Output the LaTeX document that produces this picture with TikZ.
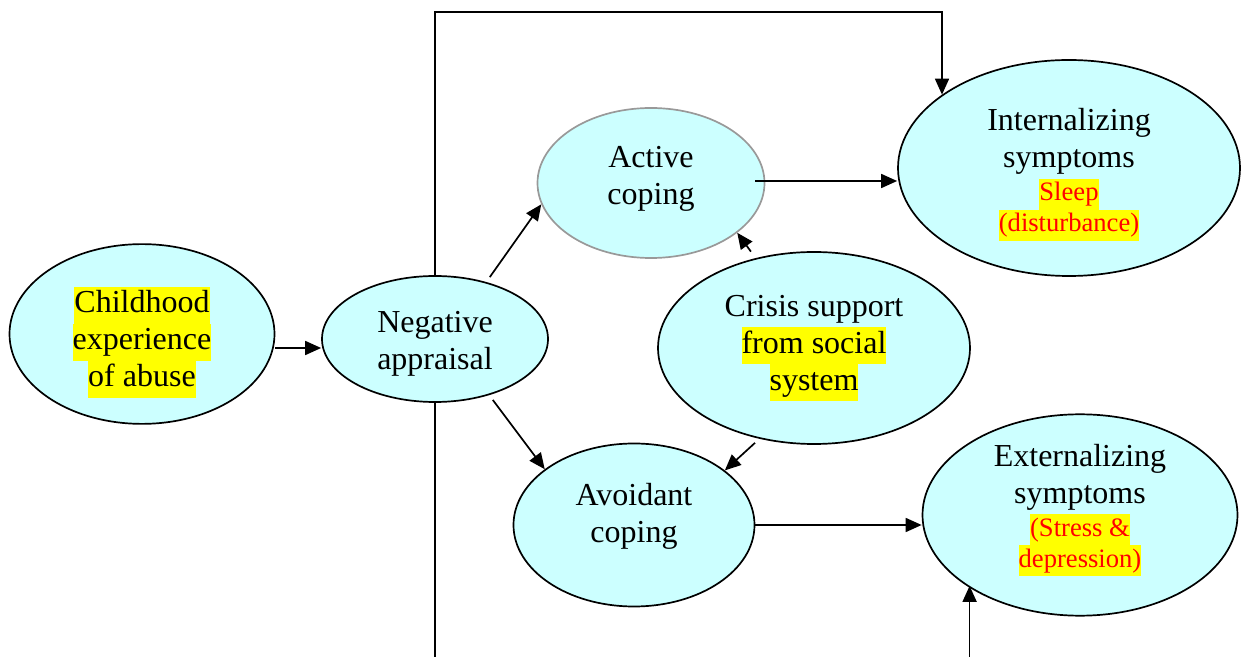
\documentclass[tikz,border=0pt]{standalone}
\usepackage{fontspec}
\setmainfont{Liberation Serif}
\usetikzlibrary{shapes.geometric}
\usetikzlibrary{arrows.meta}
\definecolor{bubble}{HTML}{CCFFFF}
\definecolor{hlyellow}{HTML}{FFFF00}
\definecolor{softgray}{HTML}{999999}
\newcommand{\hilite}[1]{{\setlength{\fboxsep}{0pt}\colorbox{hlyellow}{\strut#1}}}
\newcommand{\sym}[1]{{\fontsize{13.3}{15.5}\selectfont\color{red}\hilite{#1}}}
% invisible rules to nudge the text inside an oval
\newcommand{\padtop}[1]{\rule{0pt}{#1}}
\newcommand{\padbot}[1]{\rule[-#1]{0pt}{#1}}

\begin{document}
\begin{tikzpicture}
  [
    x=0.5pt,y=-0.5pt,
    font=\fontsize{16}{18.5}\selectfont,
    line width=0.85pt,
    blob/.style={
      ellipse,
      draw,
      fill=bubble,
      inner sep=0pt,
      align=center
    },
    dims/.style 2 args={minimum width=#1,minimum height=#2},
    arr/.style={-{Triangle[length=8pt,width=7pt]}},
  ]
  \useasboundingbox (0,0) rectangle (1243,657);
  \node[blob,dims={132.5pt}{84pt}]   (abuse)  at (142,334)  {\padtop{21pt}\hilite{Childhood}\\\hilite{experience}\\\hilite{of abuse}};
  \node[blob,dims={113pt}{63pt}]     (neg)    at (435,339)  {\padtop{15.5pt}Negative\\appraisal};
  \node[blob,draw=softgray,dims={113.5pt}{75pt}] (active) at (651,183) {Active\\coping\padbot{7.5pt}};
  \node[blob,dims={171pt}{108pt}]    (intern) at (1069,168) {\padtop{18pt}Internalizing\\symptoms\\[-2pt]\sym{Sleep}\\[-3pt]\sym{(disturbance)}};
  \node[blob,dims={156pt}{96pt}]     (crisis) at (814,348)  {Crisis support\\\hilite{from social}\\\hilite{system}};
  \node[blob,dims={120.5pt}{81.5pt}] (avoid)  at (634,525)  {Avoidant\\coping\padbot{12.5pt}};
  \node[blob,dims={157.5pt}{97pt}]   (ext)    at (1080,515) {Externalizing\\symptoms\\[-2pt]\sym{(Stress \&}\\[-3pt]\sym{depression)}\padbot{9.6pt}};

  \coordinate (top) at (690,12);
  \coordinate (bot) at (690,657);

  \draw[arr] ([yshift=-7pt]abuse.east) -- ([yshift=-7pt]abuse.east -| neg.west);
  \draw[arr,shorten <=3pt] (neg.48) -- (active.191);
  \draw[arr,shorten <=3pt] (neg.-46) -- (avoid.148);
  \draw[arr] ([xshift=-5pt,yshift=1pt]active.east) -- ([yshift=1pt]active.east -| intern.west);
  \draw[arr] (avoid.east) -- (avoid.east -| ext.west);
  \draw[arr,shorten <=4pt] (crisis.123) -- (active.-30);
  \draw[arr,shorten <=3pt] (crisis.239) -- (avoid.31);
  % long paths round the middle
  \draw[arr] (neg.north) |- (top) -| (intern.150);
  \draw (neg.south) -- (neg.south |- bot);
  \draw[arr] ([xshift=1.5pt]ext.212 |- bot) -- ([xshift=1.5pt]ext.212);
\end{tikzpicture}
\end{document}
